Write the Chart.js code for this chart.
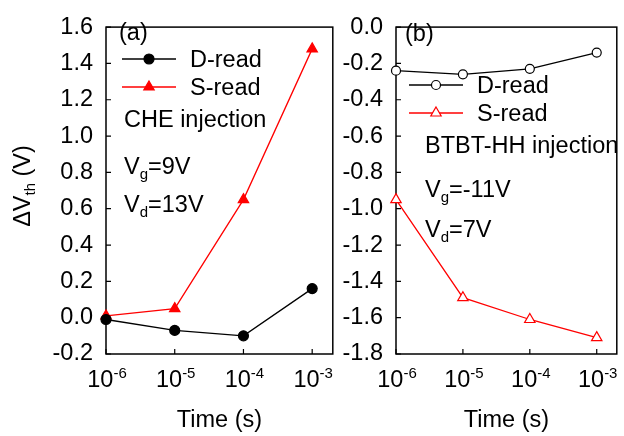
<!DOCTYPE html>
<html><head><meta charset="utf-8">
<script src="https://cdn.jsdelivr.net/npm/chart.js@4"></script>
<style>
html,body{margin:0;padding:0;background:#fff;width:624px;height:436px;overflow:hidden}
#ca{position:absolute;left:0;top:0}
#cb{position:absolute;left:340px;top:0}
</style></head><body>
<canvas id="ca" width="340" height="436"></canvas>
<canvas id="cb" width="284" height="436"></canvas>
<script>
// ---- data ----
const timeExponents = [-6, -5, -4, -3];
const times = timeExponents.map(e => Math.pow(10, e));
const dReadA = [-0.01, -0.07, -0.10, 0.16];
const sReadA = [0.01, 0.05, 0.65, 1.48];
const dReadB = [-0.24, -0.26, -0.23, -0.14];
const sReadB = [-0.95, -1.49, -1.61, -1.71];
const yRangeA = [-0.2, 1.6];
const yRangeB = [-1.8, 0.0];
const xMaxExp = -2.7;

const FONT = '"Liberation Sans", Arial, Helvetica, sans-serif';
const FS = 23.5, SUB = 15;

function richWidth(ctx, parts) {
  let w = 0;
  for (const p of parts) { ctx.font = p[1] + 'px ' + FONT; w += ctx.measureText(p[0]).width; }
  return w;
}
function drawRich(ctx, parts, x, y) {
  let cx = x;
  ctx.textAlign = 'left'; ctx.textBaseline = 'alphabetic';
  for (const p of parts) {
    ctx.font = p[1] + 'px ' + FONT;
    ctx.fillText(p[0], cx, y + (p[2] || 0));
    cx += ctx.measureText(p[0]).width;
  }
}

function makePlugin(cfg) {
  return {
    id: 'deco',
    beforeDatasetsDraw(chart) {
      const ctx = chart.ctx, a = chart.chartArea;
      const xs = chart.scales.x, ys = chart.scales.y;
      ctx.save();
      ctx.strokeStyle = '#000'; ctx.lineWidth = 1.5;
      ctx.strokeRect(a.left, a.top, a.right - a.left, a.bottom - a.top);
      ctx.lineWidth = 1.2;
      ctx.beginPath();
      xs.ticks.forEach(t => { const px = xs.getPixelForValue(t.value); ctx.moveTo(px, a.bottom); ctx.lineTo(px, a.bottom - 5); });
      ys.ticks.forEach(t => { const py = ys.getPixelForValue(t.value); ctx.moveTo(a.left, py); ctx.lineTo(a.left + 5, py); });
      ctx.stroke();
      ctx.restore();
    },
    afterDraw(chart) {
      const ctx = chart.ctx, a = chart.chartArea;
      const xs = chart.scales.x;
      ctx.save();
      ctx.fillStyle = '#000';
      // x tick labels 10^n
      xs.ticks.forEach(t => {
        const px = xs.getPixelForValue(t.value);
        const e = Math.round(Math.log10(t.value));
        const parts = [['10', FS, 0], [String(e), SUB, -9]];
        const w = richWidth(ctx, parts);
        drawRich(ctx, parts, px - w / 2 + 1, 387);
      });
      // x title
      ctx.font = FS + 'px ' + FONT; ctx.textAlign = 'center'; ctx.textBaseline = 'alphabetic';
      ctx.fillText('Time (s)', (a.left + a.right) / 2, 427);
      // y title
      if (cfg.yTitle) {
        ctx.save();
        ctx.translate(30, 186);
        ctx.rotate(-Math.PI / 2);
        const parts = [['\u0394V', FS, 0], ['th', SUB, 4.5], [' (V)', FS, 0]];
        const w = richWidth(ctx, parts);
        drawRich(ctx, parts, -w / 2, 0);
        ctx.restore();
      }
      // legend
      const H = Chart.helpers;
      cfg.legend.forEach(it => {
        ctx.strokeStyle = it.color; ctx.lineWidth = 1.3;
        ctx.beginPath(); ctx.moveTo(it.x0, it.y); ctx.lineTo(it.x1, it.y); ctx.stroke();
        ctx.fillStyle = it.fill; ctx.strokeStyle = it.color; ctx.lineWidth = 1.2;
        H.drawPoint(ctx, { pointStyle: it.style, radius: it.r, rotation: 0, borderWidth: 1.2 }, (it.x0 + it.x1) / 2, it.y);
        ctx.fillStyle = '#000';
        drawRich(ctx, [[it.label, FS, 0]], it.tx, it.y + 8);
      });
      ctx.fillStyle = '#000';
      cfg.texts.forEach(tx => drawRich(ctx, tx.parts, tx.x, tx.y));
      ctx.restore();
    }
  };
}

function makeChart(id, dVals, sVals, yr, yWidth, padRight, open, cfg) {
  return new Chart(document.getElementById(id), {
    type: 'line',
    data: {
      labels: times,
      datasets: [
        { data: times.map((t, i) => ({ x: t, y: dVals[i] })), borderColor: '#000', borderWidth: 1.3,
          pointStyle: 'circle', pointRadius: open ? 4.5 : 5, pointBackgroundColor: open ? '#fff' : '#000',
          pointBorderColor: '#000', pointBorderWidth: 1.2, clip: false, tension: 0 },
        { data: times.map((t, i) => ({ x: t, y: sVals[i] })), borderColor: '#ff0000', borderWidth: 1.3,
          pointStyle: 'triangle', pointRadius: 6, pointBackgroundColor: open ? '#fff' : '#ff0000',
          pointBorderColor: '#ff0000', pointBorderWidth: 1.2, clip: false, tension: 0 }
      ]
    },
    options: {
      responsive: false, animation: false, devicePixelRatio: 1,
      layout: { padding: { left: 0, top: 14, right: padRight, bottom: 0 } },
      plugins: { legend: { display: false }, tooltip: { enabled: false } },
      scales: {
        x: { type: 'logarithmic', min: times[0], max: Math.pow(10, xMaxExp),
             grid: { display: false, drawTicks: false, tickLength: 0 }, border: { display: false },
             ticks: { display: false },
             afterBuildTicks: s => { s.ticks = times.map(v => ({ value: v })); },
             afterFit: s => { s.height = 82; } },
        y: { type: 'linear', min: yr[0], max: yr[1],
             grid: { display: false, drawTicks: false, tickLength: 0 }, border: { display: false },
             ticks: { stepSize: 0.2, padding: 13, color: '#000', font: { family: FONT, size: FS },
                      callback: v => (Math.abs(v) < 1e-9 ? 0 : v).toFixed(1) },
             afterFit: s => { s.width = yWidth; } }
      }
    },
    plugins: [makePlugin(cfg)]
  });
}

makeChart('ca', dReadA, sReadA, yRangeA, 106, 7, false, {
  yTitle: true,
  legend: [
    { x0: 122, x1: 176, y: 59, color: '#000', fill: '#000', style: 'circle', r: 5, label: 'D-read', tx: 190 },
    { x0: 122, x1: 176, y: 87, color: '#ff0000', fill: '#ff0000', style: 'triangle', r: 6, label: 'S-read', tx: 190 }
  ],
  texts: [
    { x: 119, y: 40, parts: [['(a)', FS, 0]] },
    { x: 124, y: 127, parts: [['CHE injection', FS, 0]] },
    { x: 124, y: 174, parts: [['V', FS, 0], ['g', SUB, 4.5], ['=9V', FS, 0]] },
    { x: 124, y: 212, parts: [['V', FS, 0], ['d', SUB, 4.5], ['=13V', FS, 0]] }
  ]
});

makeChart('cb', dReadB, sReadB, yRangeB, 56, 1, true, {
  yTitle: false,
  legend: [
    { x0: 69, x1: 123, y: 85, color: '#000', fill: '#fff', style: 'circle', r: 4.5, label: 'D-read', tx: 137 },
    { x0: 69, x1: 123, y: 113, color: '#ff0000', fill: '#fff', style: 'triangle', r: 6, label: 'S-read', tx: 137 }
  ],
  texts: [
    { x: 65, y: 41, parts: [['(b)', FS, 0]] },
    { x: 85, y: 153, parts: [['BTBT-HH injection', FS, 0]] },
    { x: 85, y: 197, parts: [['V', FS, 0], ['g', SUB, 4.5], ['=-11V', FS, 0]] },
    { x: 85, y: 237, parts: [['V', FS, 0], ['d', SUB, 4.5], ['=7V', FS, 0]] }
  ]
});
</script>
</body></html>
